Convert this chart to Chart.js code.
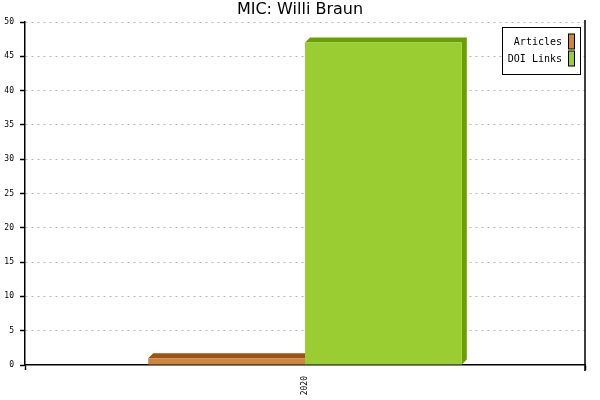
<!DOCTYPE html>
<html><head><meta charset="utf-8">
<script src="https://cdn.jsdelivr.net/npm/chart.js@4/dist/chart.umd.min.js"></script>
<style>html,body{margin:0;padding:0;background:#fff}#wrap{width:600px;height:400px}</style>
</head><body><div id="wrap"><canvas id="c"></canvas></div>
<script>
const titleText = "MIC: Willi Braun";
const categories = ["2020"];
const seriesNames = ["Articles", "DOI Links"];
const articles = [1];
const doiLinks = [47];
const yTicks = [0, 5, 10, 15, 20, 25, 30, 35, 40, 45, 50];

const frontColors = ["#CD853F", "#9ACD32"];
const darkColors = ["#9C5416", "#6A9F00"];
const DEPTH = 5;

const threeD = {
  id: 'threeD',
  beforeDatasetsDraw(chart) {
    const ctx = chart.ctx;
    chart.data.datasets.forEach((ds, i) => {
      const meta = chart.getDatasetMeta(i);
      meta.data.forEach(bar => {
        const p = bar.getProps(['x','y','base','width'], true);
        const x1 = p.x - p.width/2, x2 = p.x + p.width/2;
        const top = p.y, bot = p.base;
        ctx.save();
        ctx.fillStyle = darkColors[i];
        ctx.beginPath();
        ctx.moveTo(x1, top); ctx.lineTo(x1+DEPTH, top-DEPTH);
        ctx.lineTo(x2+DEPTH, top-DEPTH); ctx.lineTo(x2+DEPTH, bot-DEPTH);
        ctx.lineTo(x2, bot); ctx.lineTo(x2, top); ctx.closePath();
        ctx.fill();
        ctx.restore();
      });
    });
  },
  afterDraw(chart) {
    const ctx = chart.ctx, a = chart.chartArea;
    ctx.save();
    ctx.strokeStyle = '#000'; ctx.lineWidth = 1.5;
    ctx.beginPath(); ctx.moveTo(a.right, a.top - 2); ctx.lineTo(a.right, a.bottom + 6); ctx.stroke();
    ctx.fillStyle = '#000'; ctx.font = '16px "DejaVu Sans"';
    ctx.textAlign = 'center'; ctx.textBaseline = 'middle';
    ctx.fillText(titleText, 300, 10);
    const lx = 502, ly = 27, lw = 78, lh = 47;
    ctx.fillStyle = '#fff'; ctx.fillRect(lx, ly, lw, lh);
    ctx.strokeStyle = '#000'; ctx.lineWidth = 1;
    ctx.strokeRect(lx + 0.5, ly + 0.5, lw, lh);
    ctx.font = '10px "DejaVu Sans Mono"'; ctx.textAlign = 'right'; ctx.textBaseline = 'middle';
    chart.data.datasets.forEach((ds, i) => {
      const yy = 42 + i * 17;
      ctx.fillStyle = '#000';
      ctx.fillText(ds.label, 562, yy);
      ctx.fillStyle = frontColors[i];
      ctx.fillRect(568.5, yy - 8, 6, 15);
      ctx.strokeRect(568.5, yy - 8, 6, 15);
    });
    ctx.restore();
  }
};

new Chart(document.getElementById('c'), {
  type: 'bar',
  data: {
    labels: categories,
    datasets: [
      { label: seriesNames[0], data: articles, backgroundColor: frontColors[0], borderWidth: 0 },
      { label: seriesNames[1], data: doiLinks, backgroundColor: frontColors[1], borderWidth: 0 }
    ]
  },
  options: {
    responsive: true, maintainAspectRatio: false, animation: false,
    devicePixelRatio: 1,
    layout: { padding: { top: 22, right: 15, left: 0, bottom: 0 } },
    plugins: { legend: { display: false }, title: { display: false }, tooltip: { enabled: false } },
    datasets: { bar: { categoryPercentage: 0.56, barPercentage: 1.0 } },
    scales: {
      x: {
        offset: true,
        afterFit(s) { s.height = 35; },
        grid: { offset: true, drawOnChartArea: false, drawTicks: true, tickLength: 5, tickColor: '#000', tickWidth: 1.5 },
        border: { display: true, color: '#000', width: 1.5 },
        ticks: { minRotation: 90, maxRotation: 90, color: '#000', font: { family: 'DejaVu Sans Mono', size: 8 }, padding: 6 }
      },
      y: {
        min: 0, max: 50,
        afterFit(s) { s.width = 25; },
        afterBuildTicks(s) { s.ticks = yTicks.map(v => ({ value: v })); },
        grid: {
          color: (c) => c.tick && c.tick.value === 0 ? 'rgba(0,0,0,0)' : '#b4b4b4',
          lineWidth: 1,
          drawTicks: true, tickLength: 5, tickColor: '#000', tickBorderDash: [], tickWidth: 1.5
        },
        border: { display: true, color: '#000', width: 1.5, dash: [2, 4] },
        ticks: { color: '#000', font: { family: 'DejaVu Sans Mono', size: 8 }, padding: 6 }
      }
    }
  },
  plugins: [threeD]
});
</script></body></html>
